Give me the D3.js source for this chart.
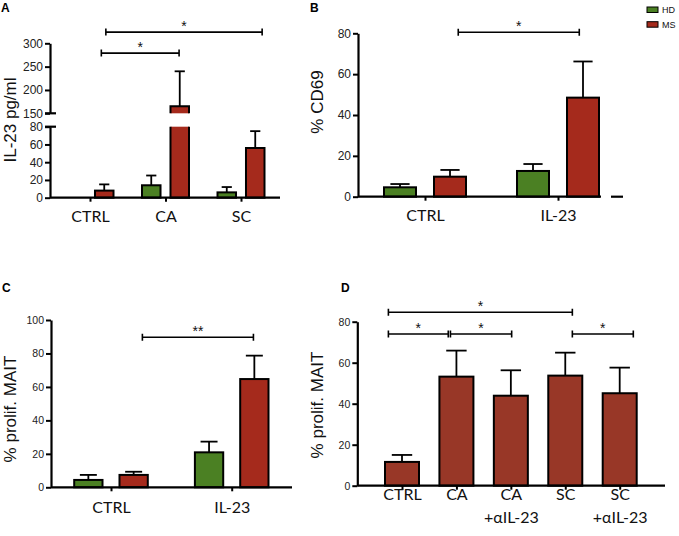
<!DOCTYPE html>
<html><head><meta charset="utf-8">
<script src="https://cdn.jsdelivr.net/npm/d3@7"></script>
<style>body{margin:0;background:#fff}svg{display:block}</style>
</head><body>
<script>
// ---------- DATA ----------
const series = ["HD", "MS"];
// Panel A (broken axis)
const catsA = ["CTRL", "CA", "SC"];
const hdA = [0, 14, 6];
const hdAErr = [0, 25, 12];
const msA = [8, 165, 56];
const msAErr = [15, 240, 75];
const ticksALow = [0, 20, 40, 60, 80];
const ticksAHigh = [150, 200, 250, 300];
const sigA = [{from: 0.15, to: 1.18, y: 279, label: "*"}, {from: 0.21, to: 2.28, y: 324, label: "*"}];
// Panel B
const catsB = ["CTRL", "IL-23"];
const hdB = [4.6, 12.6];
const hdBErr = [6.2, 16];
const msB = [9.8, 48.5];
const msBErr = [13.1, 66.2];
const ticksB = [0, 20, 40, 60, 80];
const sigB = [{from: 0.25, to: 1.16, y: 80.5, label: "*"}];
// Panel C
const catsC = ["CTRL", "IL-23"];
const hdC = [4.4, 20.9];
const hdCErr = [7.4, 27.3];
const msC = [7.4, 64.7];
const msCErr = [9.3, 78.7];
const ticksC = [0, 20, 40, 60, 80, 100];
const sigC = [{from: 0.26, to: 1.18, y: 89.7, label: "**"}];
// Panel D
const catsD = ["CTRL", "CA", "CA+aIL-23", "SC", "SC+aIL-23"];
const labelsD = [["CTRL"], ["CA"], ["CA", "+αIL-23"], ["SC"], ["SC", "+αIL-23"]];
const valD = [11.6, 53.2, 43.9, 53.7, 45.1];
const errD = [15, 65.9, 56.3, 64.9, 57.6];
const ticksD = [0, 20, 40, 60, 80];
const sigD = [
  {from: -0.25, to: 3.13, y: 84.6, label: "*"},
  {from: -0.25, to: 0.85, y: 74, label: "*"},
  {from: 0.89, to: 2.015, y: 74, label: "*"},
  {from: 3.13, to: 4.25, y: 74, label: "*"}
];

// ---------- STYLE ----------
const colHD = "#4b8023", colMS = "#a52a1c", colD = "#983727";
const sans = "'Liberation Sans', Arial, Helvetica, sans-serif";
const labFont = "Lato, 'Open Sans', sans-serif";
const SW = 2;

const svg = d3.select("body").append("svg").attr("width", 679).attr("height", 536);

function yAxis(g, scale, ticks, x, fs) {
  const a = g.append("g").attr("transform", `translate(${x},0)`)
    .call(d3.axisLeft(scale).tickValues(ticks).tickSize(5).tickSizeOuter(0).tickPadding(2));
  a.select(".domain").attr("stroke", "#000").attr("stroke-width", 2.2);
  a.selectAll(".tick line").attr("stroke", "#000").attr("stroke-width", 2);
  a.selectAll(".tick text").attr("font-family", sans).attr("font-size", fs).attr("fill", "#222");
  return a;
}
function xAxis(g, scale, x0, x1, y, fs, pad) {
  g.append("line").attr("x1", x0).attr("x2", x1).attr("y1", y).attr("y2", y)
    .attr("stroke", "#000").attr("stroke-width", 2.2);
  const a = g.append("g").attr("transform", `translate(0,${y})`)
    .call(d3.axisBottom(scale).tickSize(4).tickSizeOuter(0).tickPadding(pad));
  a.select(".domain").remove();
  a.selectAll(".tick line").attr("stroke", "#000").attr("stroke-width", 2);
  a.selectAll(".tick text").attr("font-family", labFont).attr("font-size", fs).attr("fill", "#111");
  return a;
}
function yLabel(g, text, x, y, fs) {
  g.append("text").attr("transform", `translate(${x},${y}) rotate(-90)`)
    .attr("text-anchor", "middle").attr("font-family", sans).attr("font-size", fs)
    .attr("fill", "#111").text(text);
}
function letter(g, t, x, y) {
  g.append("text").attr("x", x).attr("y", y).attr("font-family", sans)
    .attr("font-weight", "bold").attr("font-size", 12).attr("fill", "#000").text(t);
}
function bar(g, cx, w, yTop, yBase, fill) {
  g.append("rect").attr("x", cx - w / 2).attr("y", yTop).attr("width", w)
    .attr("height", Math.max(0, yBase - yTop)).attr("fill", fill)
    .attr("stroke", "#000").attr("stroke-width", SW);
}
function err(g, cx, capW, yTop, yErr) {
  g.append("line").attr("x1", cx).attr("x2", cx).attr("y1", yTop).attr("y2", yErr)
    .attr("stroke", "#000").attr("stroke-width", 1.8);
  g.append("line").attr("x1", cx - capW / 2).attr("x2", cx + capW / 2).attr("y1", yErr).attr("y2", yErr)
    .attr("stroke", "#000").attr("stroke-width", 1.8);
}
function sig(g, idx, yScale, s) {
  const x1 = idx(s.from), x2 = idx(s.to), y = yScale(s.y);
  g.append("path").attr("d", `M${x1},${y - 3.5}V${y + 3.5}M${x1},${y}H${x2}M${x2},${y - 3.5}V${y + 3.5}`)
    .attr("stroke", "#000").attr("stroke-width", 1.6).attr("fill", "none");
  g.append("text").attr("x", (x1 + x2) / 2).attr("y", y - 1.5).attr("text-anchor", "middle")
    .attr("font-family", sans).attr("font-size", 14).attr("fill", "#111").text(s.label);
}
function idxScale(points, cats) {
  const a = points(cats[0]), b = points(cats[cats.length - 1]);
  return d3.scaleLinear().domain([0, cats.length - 1]).range([a, b]);
}

// ---------- PANEL A ----------
{
  const g = svg.append("g");
  const axX = 50;
  const yLow = d3.scaleLinear().domain([0, 80]).range([197.7, 126.7]);
  const yHigh = d3.scaleLinear().domain([150, 300]).range([113.3, 43.3]);
  const x = d3.scalePoint().domain(catsA).range([90, 241]);
  const inner = d3.scaleBand().domain(series).range([-23.5, 23.5]).paddingInner(0.35);
  const bw = inner.bandwidth();
  yAxis(g, yLow, ticksALow, axX, 12);
  yAxis(g, yHigh, ticksAHigh, axX, 12);
  [yLow(80), yHigh(150)].forEach(yy => g.append("line").attr("x1", axX - 5).attr("x2", axX + 6)
    .attr("y1", yy).attr("y2", yy).attr("stroke", "#000").attr("stroke-width", 2.2));
  const yv = v => v <= 80 ? yLow(v) : yHigh(v);
  catsA.forEach((c, i) => {
    [[hdA, hdAErr, colHD, "HD"], [msA, msAErr, colMS, "MS"]].forEach(([vals, errs, col, s]) => {
      const v = vals[i];
      if (v <= 0) return;
      const cx = x(c) + inner(s) + bw / 2;
      if (v <= 80) {
        bar(g, cx, bw, yLow(v), yLow(0), col);
      } else {
        g.append("rect").attr("x", cx - bw / 2).attr("y", yLow(80)).attr("width", bw)
          .attr("height", yLow(0) - yLow(80)).attr("fill", col);
        g.append("path").attr("d", `M${cx - bw / 2},${yLow(80)}V${yLow(0)}H${cx + bw / 2}V${yLow(80)}`)
          .attr("fill", "none").attr("stroke", "#000").attr("stroke-width", SW);
        g.append("rect").attr("x", cx - bw / 2).attr("y", yHigh(v)).attr("width", bw)
          .attr("height", yHigh(150) - yHigh(v)).attr("fill", col);
        g.append("path").attr("d", `M${cx - bw / 2},${yHigh(150)}V${yHigh(v)}H${cx + bw / 2}V${yHigh(150)}`)
          .attr("fill", "none").attr("stroke", "#000").attr("stroke-width", SW);
      }
      err(g, cx, bw * 0.55, yv(v), yv(errs[i]));
    });
  });
  xAxis(g, x, axX, 280, 197.7, 16, 9);
  const idx = idxScale(x, catsA);
  sigA.forEach(s => sig(g, idx, yHigh, s));
  yLabel(g, "IL-23 pg/ml", 16, 120, 17);
  letter(g, "A", 1, 12);
}

// ---------- PANEL B ----------
{
  const g = svg.append("g");
  const axX = 358;
  const y = d3.scaleLinear().domain([0, 80]).range([196.7, 33.3]);
  const x = d3.scalePoint().domain(catsB).range([425, 558]);
  const inner = d3.scaleBand().domain(series).range([-41, 41]).paddingInner(0.36);
  const bw = inner.bandwidth();
  yAxis(g, y, ticksB, axX, 12);
  catsB.forEach((c, i) => {
    [[hdB, hdBErr, colHD, "HD"], [msB, msBErr, colMS, "MS"]].forEach(([vals, errs, col, s]) => {
      const cx = x(c) + inner(s) + bw / 2;
      bar(g, cx, bw, y(vals[i]), y(0), col);
      err(g, cx, bw * 0.6, y(vals[i]), y(errs[i]));
    });
  });
  xAxis(g, x, axX, 601, 196.7, 16, 9);
  g.append("line").attr("x1", 611).attr("x2", 623).attr("y1", 196.7).attr("y2", 196.7)
    .attr("stroke", "#000").attr("stroke-width", 2.2);
  const idx = idxScale(x, catsB);
  sigB.forEach(s => sig(g, idx, y, s));
  yLabel(g, "% CD69", 323, 102, 17);
  letter(g, "B", 310, 12);
  const lg = g.append("g");
  [[colHD, "HD"], [colMS, "MS"]].forEach(([col, t], k) => {
    lg.append("rect").attr("x", 647).attr("y", 7 + k * 14.7).attr("width", 11).attr("height", 5.5)
      .attr("fill", col).attr("stroke", "#000").attr("stroke-width", 1);
    lg.append("text").attr("x", 662).attr("y", 13 + k * 14.7).attr("font-family", sans)
      .attr("font-size", 9).attr("fill", "#111").text(t);
  });
}

// ---------- PANEL C ----------
{
  const g = svg.append("g");
  const axX = 51;
  const y = d3.scaleLinear().domain([0, 100]).range([487.3, 320]);
  const x = d3.scalePoint().domain(catsC).range([111, 231.7]);
  const inner = d3.scaleBand().domain(series).range([-36.8, 36.8]).paddingInner(0.375);
  const bw = inner.bandwidth();
  yAxis(g, y, ticksC, axX, 10.5);
  catsC.forEach((c, i) => {
    [[hdC, hdCErr, colHD, "HD"], [msC, msCErr, colMS, "MS"]].forEach(([vals, errs, col, s]) => {
      const cx = x(c) + inner(s) + bw / 2;
      bar(g, cx, bw, y(vals[i]), y(0), col);
      err(g, cx, bw * 0.6, y(vals[i]), y(errs[i]));
    });
  });
  xAxis(g, x, axX, 292, 487.3, 16, 10);
  const idx = idxScale(x, catsC);
  sigC.forEach(s => sig(g, idx, y, s));
  yLabel(g, "% prolif. MAIT", 16, 409, 17);
  letter(g, "C", 2, 292);
}

// ---------- PANEL D ----------
{
  const g = svg.append("g");
  const axX = 357.3;
  const y = d3.scaleLinear().domain([0, 80]).range([485.7, 321.7]);
  const x = d3.scalePoint().domain(catsD).range([402, 619.7]);
  const bw = 34;
  yAxis(g, y, ticksD, axX, 10.5);
  catsD.forEach((c, i) => {
    bar(g, x(c), bw, y(valD[i]), y(0), colD);
    err(g, x(c), bw * 0.6, y(valD[i]), y(errD[i]));
  });
  const a = xAxis(g, x, axX, 665, 485.7, 16, 10);
  a.selectAll(".tick text").text(null).each(function (d, i) {
    const t = d3.select(this);
    labelsD[i].forEach((line, k) => {
      t.append("tspan").attr("x", 0).attr("dy", k === 0 ? 0 : "1.45em").text(line);
    });
  });
  const idx = idxScale(x, catsD);
  sigD.forEach(s => sig(g, idx, y, s));
  yLabel(g, "% prolif. MAIT", 323, 405, 17);
  letter(g, "D", 341, 292);
}
</script>
</body></html>
